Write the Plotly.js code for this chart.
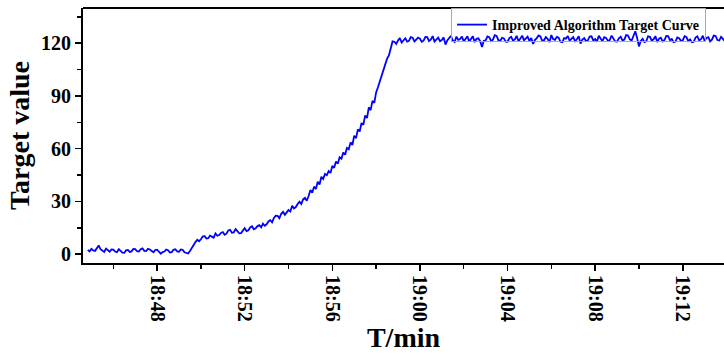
<!DOCTYPE html>
<html>
<head>
<meta charset="utf-8">
<script src="https://cdn.plot.ly/plotly-3.0.1.min.js"></script>
<style>html,body{margin:0;padding:0;overflow:hidden;background:#fff}</style>
</head>
<body>
<div id="chart" style="width:724px;height:357px"></div>
<script>
// Sampling grid of the recorded series
const startTime = "2020-01-01 18:44:50";
const sampleSeconds = 5;

// Target values (one value per 5 s sample)
const targetValues = [
  2.5, 1.6,                                                            // 18:44:50
  3.1, 2.2, 1.9, 3.4, 5.0, 2.8, 2.0, 1.3, 3.2, 2.1, 1.4, 2.7,          // 18:45
  2.6, 1.5, 1.2, 2.9, 2.1, 0.9, 0.8, 2.2, 2.4, 1.3, 1.6, 3.0,          // 18:46
  2.9, 1.7, 1.5, 2.8, 3.3, 1.9, 1.8, 3.1, 2.7, 1.6, 1.1, 2.4,          // 18:47
  2.6, 1.4, 0.3, 1.2, 1.5, 2.6, 2.3, 1.0, 1.2, 2.5, 2.8, 1.6,          // 18:48
  1.4, 2.7, 2.5, 1.1, 0.9, 0.4, 1.8, 3.6, 5.5, 6.9, 8.2, 7.4,          // 18:49
  8.5, 10.1, 10.3, 8.9, 9.1, 10.6, 10.0, 9.4, 11.8, 10.5, 10.9, 12.1,  // 18:50
  12.6, 11.0, 11.7, 13.5, 13.9, 12.2, 12.4, 14.3, 13.1, 11.9, 12.0, 13.8, // 18:51
  14.8, 13.1, 13.6, 15.2, 15.9, 14.2, 14.7, 16.0, 16.5, 15.3, 17.4, 16.2, // 18:52
  17.0, 18.6, 19.3, 18.1, 20.6, 21.9, 21.8, 20.5, 23.0, 24.1, 22.4, 23.8, // 18:53
  25.1, 24.3, 27.6, 26.0, 26.8, 28.5, 29.9, 28.6, 31.2, 32.0, 30.4, 33.1, // 18:54
  36.5, 35.0, 38.4, 37.1, 41.2, 39.6, 44.0, 42.8, 45.6, 44.9, 47.3, 46.2, // 18:55
  50.2, 49.1, 52.7, 51.5, 55.1, 54.3, 57.8, 56.6, 60.4, 59.7, 63.6, 62.1, // 18:56
  67.4, 66.0, 71.0, 69.8, 74.6, 73.5, 78.9, 77.4, 83.5, 81.9, 87.2, 86.1, // 18:57
  92.0, 94.9, 98.4, 100.6, 104.1, 107.8, 111.2, 113.0, 117.5, 121.0, 120.8, 119.6, // 18:58
  121.5, 122.9, 120.4, 121.8, 122.8, 120.9, 121.3, 123.4, 123.1, 121.0, 121.9, 123.2, // 18:59
  122.6, 120.8, 121.4, 123.6, 123.5, 121.2, 122.1, 124.0, 120.9, 122.3, 123.2, 121.1, // 19:00
  121.8, 123.3, 119.2, 121.6, 122.9, 124.2, 121.5, 120.7, 123.7, 121.9, 122.4, 123.8, // 19:01
  121.0, 122.7, 123.9, 120.9, 122.2, 124.0, 120.6, 122.5, 122.8, 121.1, 117.8, 121.4, // 19:02
  121.6, 123.8, 123.4, 121.2, 122.0, 124.5, 124.1, 121.7, 121.3, 123.0, 122.7, 120.9, // 19:03
  120.8, 122.9, 123.6, 121.4, 122.1, 124.2, 121.0, 122.8, 124.3, 121.6, 122.5, 123.7, // 19:04
  121.2, 123.0, 119.6, 121.8, 122.9, 124.4, 123.8, 121.3, 121.7, 123.5, 122.4, 120.6, // 19:05
  124.6, 122.3, 121.9, 123.6, 123.1, 120.8, 120.5, 122.9, 122.6, 124.1, 121.4, 122.8, // 19:06
  123.5, 121.1, 122.2, 124.0, 119.8, 122.1, 122.9, 121.2, 121.6, 123.8, 123.9, 121.5, // 19:07
  122.3, 120.9, 124.2, 122.6, 121.1, 123.4, 123.0, 121.3, 121.8, 124.3, 122.6, 121.0, // 19:08
  120.9, 122.8, 123.7, 121.5, 122.0, 124.6, 124.4, 122.1, 121.5, 123.9, 126.8, 123.0, // 19:09
  118.2, 121.3, 122.5, 120.6, 121.0, 123.9, 123.6, 121.4, 122.2, 124.0, 120.7, 122.5, // 19:10
  123.1, 121.0, 121.8, 124.1, 124.0, 121.7, 122.4, 120.6, 120.9, 123.3, 122.8, 121.4, // 19:11
  121.6, 124.0, 123.5, 121.2, 122.1, 120.5, 120.8, 123.2, 123.9, 121.6, 122.3, 124.2, // 19:12
  121.2, 123.0, 123.4, 121.0, 122.0, 124.3, 124.1, 121.8, 121.5, 123.6, 122.7, 121.3  // 19:13
];

const seriesName = "Improved Algorithm Target Curve";
const xTitle = "T/min";
const yTitle = "Target value";
const xRange = ["2020-01-01 18:44:37", "2020-01-01 19:13:53"];
const yRange = [-5, 140];

function pad(n){return String(n).padStart(2,"0");}
const t0 = new Date(startTime.replace(" ", "T"));
const times = targetValues.map((_, i) => {
  const d = new Date(t0.getTime() + i * sampleSeconds * 1000);
  return d.getFullYear() + "-" + pad(d.getMonth()+1) + "-" + pad(d.getDate()) + " " +
         pad(d.getHours()) + ":" + pad(d.getMinutes()) + ":" + pad(d.getSeconds());
});

const FONT = "Liberation Serif, Times New Roman, serif";

const trace = {
  x: times,
  y: targetValues,
  type: "scatter",
  mode: "lines",
  name: seriesName,
  line: {color: "#0000ff", width: 1.8}
};

const layout = {
  width: 724,
  height: 357,
  margin: {l: 83, r: 0, t: 8, b: 94},
  paper_bgcolor: "#fff",
  plot_bgcolor: "#fff",
  showlegend: true,
  legend: {
    x: 0.972, y: 1.0, xanchor: "right", yanchor: "top",
    bgcolor: "rgba(255,255,255,0)", bordercolor: "#aaaaaa", borderwidth: 1,
    font: {family: FONT, size: 14, color: "#000", weight: "bold"},
    itemwidth: 30, tracegroupgap: 0
  },
  xaxis: {
    type: "date",
    range: xRange,
    tick0: "2020-01-01 18:48:00",
    dtick: 240000,
    tickformat: "%H:%M",
    tickangle: 90,
    ticks: "outside", ticklen: 6, tickwidth: 1.5, tickcolor: "#000",
    minor: {dtick: 120000, ticks: "outside", ticklen: 4, tickwidth: 1.5, tickcolor: "#000"},
    showline: true, linecolor: "#000", linewidth: 2,
    showgrid: false, zeroline: false,
    tickfont: {family: FONT, size: 20, color: "#000", weight: "bold"},
    title: {text: xTitle, font: {family: FONT, size: 28, color: "#000", weight: "bold"}, standoff: 6}
  },
  yaxis: {
    range: yRange,
    tick0: 0, dtick: 30,
    ticks: "outside", ticklen: 6, tickwidth: 1.5, tickcolor: "#000",
    minor: {dtick: 15, ticks: "outside", ticklen: 4, tickwidth: 1.5, tickcolor: "#000"},
    showline: true, linecolor: "#000", linewidth: 2,
    showgrid: false, zeroline: false,
    tickfont: {family: FONT, size: 20, color: "#000", weight: "bold"},
    title: {text: yTitle, font: {family: FONT, size: 28, color: "#000", weight: "bold"}, standoff: 3}
  },
  shapes: [{
    type: "line", xref: "paper", yref: "paper", x0: 0, x1: 1, y0: 1, y1: 1,
    line: {color: "#000", width: 2}
  }]
};

Plotly.newPlot("chart", [trace], layout, {displayModeBar: false, staticPlot: true});
</script>
</body>
</html>
